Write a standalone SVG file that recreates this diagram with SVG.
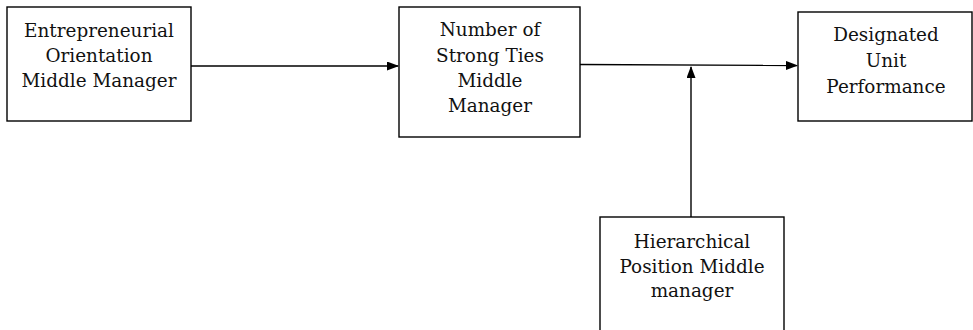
<svg xmlns="http://www.w3.org/2000/svg" width="973" height="330" viewBox="0 0 973 330">
<defs>
<marker id="ah" markerWidth="12" markerHeight="9" refX="11" refY="4.5" orient="auto" markerUnits="userSpaceOnUse">
<path d="M0,0 L12,4.5 L0,9 Z" fill="#000"/>
</marker>
<style>
.box{fill:#fff;stroke:#000;stroke-width:1.4}
.lbl{font-family:"DejaVu Serif","Liberation Serif",serif;font-size:18.4px;fill:#111;text-anchor:middle}
.con{stroke:#000;stroke-width:1.4;fill:none}
</style>
</defs>
<rect width="973" height="330" fill="#fff"/>
<g id="connectors">
<line class="con" x1="191" y1="66" x2="398" y2="66" marker-end="url(#ah)"/>
<line class="con" x1="580" y1="64.5" x2="797" y2="65.5" marker-end="url(#ah)"/>
<line class="con" x1="691" y1="217" x2="691" y2="67" marker-end="url(#ah)"/>
</g>
<g id="node-eo">
<rect class="box" x="7" y="7" width="184" height="114"/>
<text class="lbl" x="99" y="37">Entrepreneurial</text>
<text class="lbl" x="99" y="62">Orientation</text>
<text class="lbl" x="99" y="87">Middle Manager</text>
</g>
<g id="node-st">
<rect class="box" x="399" y="7" width="181" height="130"/>
<text class="lbl" x="490" y="36">Number of</text>
<text class="lbl" x="490" y="62">Strong Ties</text>
<text class="lbl" x="490" y="87">Middle</text>
<text class="lbl" x="490" y="112">Manager</text>
</g>
<g id="node-dup">
<rect class="box" x="798" y="12" width="174" height="109"/>
<text class="lbl" x="886" y="41">Designated</text>
<text class="lbl" x="886" y="67">Unit</text>
<text class="lbl" x="886" y="93">Performance</text>
</g>
<g id="node-hp">
<rect class="box" x="600" y="217" width="184" height="130"/>
<text class="lbl" x="692" y="248">Hierarchical</text>
<text class="lbl" x="692" y="273">Position Middle</text>
<text class="lbl" x="692" y="297">manager</text>
</g>
</svg>
